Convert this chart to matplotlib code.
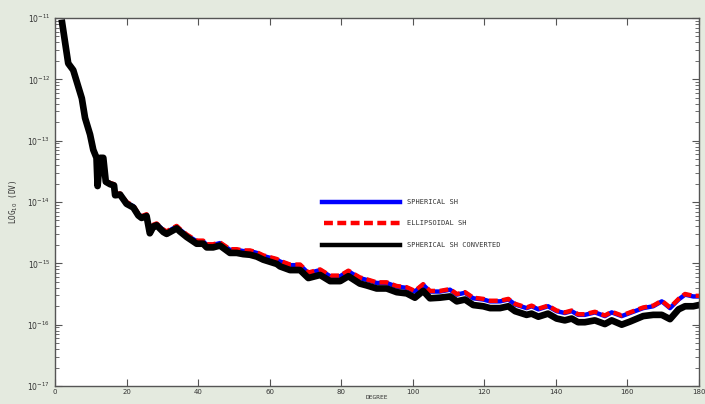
import numpy as np
import matplotlib
matplotlib.use("Agg")
from matplotlib import pyplot as plt
from matplotlib.ticker import FixedLocator, NullFormatter

# degree axis, values (log10 of DV)
degree = [2, 3.7, 5.1, 7.5, 8.4, 9.8, 10.7, 11.6, 11.9, 12.6, 13.5, 14.2, 15.4, 16.5, 16.8,
          18.2, 20.0, 21.9, 23.3, 24.2, 25.6, 26.5, 27.5, 28.4, 30.3, 31.2, 34.0, 34.9, 36.8,
          39.6, 41.4, 42.4, 44.2, 46.1, 48.9, 50.8, 52.6, 54.5, 56.4, 58.2, 62.0, 62.9, 65.7,
          68.5, 70.8, 74.1, 76.9, 79.7, 82.0, 85.2, 87.1, 89.9, 92.7, 95.5, 98.3, 100.6, 102.9,
          104.8, 107.6, 110.4, 112.3, 114.6, 116.9, 119.7, 121.6, 124.4, 126.7, 128.6, 131.8,
          133.2, 135.1, 137.8, 140.2, 142.5, 144.4, 146.2, 148.1, 150.9, 153.7, 155.6, 158.4,
          160.7, 164.4, 167.2, 169.6, 171.9, 174.3, 176.1, 178.4, 180]

log_spherical = [-11.08, -11.74, -11.85, -12.31, -12.63, -12.90, -13.15, -13.28, -13.74, -13.28,
                 -13.28, -13.66, -13.70, -13.72, -13.88, -13.87, -14.01, -14.07, -14.20, -14.24,
                 -14.21, -14.48, -14.38, -14.36, -14.46, -14.49, -14.40, -14.45, -14.54, -14.64,
                 -14.64, -14.70, -14.70, -14.67, -14.78, -14.78, -14.80, -14.80, -14.83, -14.88,
                 -14.94, -14.97, -15.03, -15.03, -15.16, -15.11, -15.21, -15.21, -15.13, -15.24,
                 -15.27, -15.32, -15.32, -15.38, -15.40, -15.46, -15.35, -15.46, -15.46, -15.43,
                 -15.51, -15.48, -15.57, -15.59, -15.62, -15.62, -15.59, -15.67, -15.73, -15.70,
                 -15.75, -15.70, -15.78, -15.81, -15.78, -15.84, -15.84, -15.80, -15.86, -15.80,
                 -15.86, -15.81, -15.73, -15.70, -15.62, -15.73, -15.59, -15.51, -15.54, -15.54]

log_ellipsoidal = [-11.07, -11.73, -11.84, -12.30, -12.62, -12.89, -13.14, -13.27, -13.73, -13.27,
                   -13.27, -13.65, -13.69, -13.71, -13.87, -13.86, -14.00, -14.06, -14.19, -14.23,
                   -14.20, -14.47, -14.37, -14.35, -14.45, -14.48, -14.39, -14.44, -14.53, -14.63,
                   -14.63, -14.69, -14.69, -14.66, -14.77, -14.77, -14.79, -14.79, -14.82, -14.87,
                   -14.93, -14.96, -15.02, -15.02, -15.15, -15.10, -15.20, -15.20, -15.12, -15.23,
                   -15.26, -15.31, -15.31, -15.37, -15.39, -15.45, -15.34, -15.45, -15.45, -15.42,
                   -15.50, -15.47, -15.56, -15.58, -15.61, -15.61, -15.58, -15.66, -15.72, -15.69,
                   -15.74, -15.69, -15.77, -15.80, -15.77, -15.83, -15.83, -15.79, -15.85, -15.79,
                   -15.85, -15.80, -15.72, -15.69, -15.61, -15.72, -15.58, -15.50, -15.53, -15.53]

log_converted = [-11.08, -11.74, -11.85, -12.31, -12.63, -12.90, -13.15, -13.28, -13.74, -13.28,
                 -13.28, -13.67, -13.71, -13.73, -13.89, -13.88, -14.03, -14.09, -14.22, -14.26,
                 -14.23, -14.51, -14.40, -14.38, -14.49, -14.52, -14.43, -14.48, -14.57, -14.68,
                 -14.68, -14.74, -14.74, -14.71, -14.83, -14.83, -14.85, -14.86, -14.89, -14.94,
                 -15.01, -15.05, -15.11, -15.11, -15.24, -15.19, -15.29, -15.29, -15.21, -15.33,
                 -15.36, -15.41, -15.41, -15.47, -15.49, -15.56, -15.45, -15.57, -15.56, -15.54,
                 -15.62, -15.59, -15.68, -15.70, -15.73, -15.73, -15.70, -15.78, -15.84, -15.82,
                 -15.87, -15.82, -15.90, -15.93, -15.90, -15.96, -15.96, -15.93, -15.99, -15.93,
                 -16.00, -15.95, -15.86, -15.84, -15.84, -15.91, -15.75, -15.70, -15.70, -15.68]

labels = ['SPHERICAL SH', 'ELLIPSOIDAL SH', 'SPHERICAL SH CONVERTED']
decades = [-17, -16, -15, -14, -13, -12, -11]

bg = '#e4eadf'
edge = '#555555'

fig = plt.figure(figsize=(7.05, 4.04), dpi=100, facecolor=bg)
ax = fig.add_axes([55/705, 18/404, 644/705, 368/404])

deg = np.array(degree)
ax.plot(deg, 10**np.array(log_spherical), color='#0000ff', lw=3.2, solid_capstyle='butt')
ax.plot(deg, 10**np.array(log_ellipsoidal), color='#ff0000', lw=3.2, ls=(0, (2.0, 1.0)))
ax.plot(deg, 10**np.array(log_converted), color='black', lw=4.8)

ax.set_yscale('log')
ax.set_xlim(0, 180)
ax.set_ylim(1e-17, 1e-11)

ax.xaxis.set_major_locator(FixedLocator(np.arange(0, 181, 20)))
ax.yaxis.set_major_locator(FixedLocator([10.0**d for d in decades]))
minors = [m * 10.0**d for d in decades[:-1] for m in range(2, 10)]
ax.yaxis.set_minor_locator(FixedLocator(minors))
ax.yaxis.set_minor_formatter(NullFormatter())
ax.set_yticklabels([r'$10^{%d}$' % d for d in decades])

ax.tick_params(which='both', direction='in', top=True, right=True, colors=edge,
               labelcolor='#333333', labelsize=5.5)
ax.tick_params(which='major', length=5, width=0.8)
ax.tick_params(which='minor', length=3, width=0.6)
ax.tick_params(axis='x', pad=2, labelsize=5)
for s in ax.spines.values():
    s.set_color(edge)
    s.set_linewidth(1.0)

ax.set_xlabel('DEGREE', fontsize=4.5, family='DejaVu Sans Mono', color='#333333')
ax.xaxis.set_label_coords(0.5, -0.0255)
ax.xaxis.label.set_va('top')
ax.set_ylabel(r'LOG$_{10}$ (DV)', fontsize=5.5, family='DejaVu Sans Mono', color='#333333',
              labelpad=5)

# legend drawn in data space as in the original (lines with text on the right)
leg_x0, leg_x1, leg_tx = 74.5, 96.5, 98.5
leg_y = [10**-14.0, 10**-14.34, 10**-14.70]
ax.plot([leg_x0, leg_x1], [leg_y[0]] * 2, color='#0000ff', lw=3.2)
ax.plot([leg_x0 + 0.8, leg_x1], [leg_y[1]] * 2, color='#ff0000', lw=3.2, ls=(0, (2.0, 1.0)))
ax.plot([leg_x0, leg_x1], [leg_y[2]] * 2, color='black', lw=3.2)
for y, lab in zip(leg_y, labels):
    ax.text(leg_tx, y, lab, fontsize=5, family='DejaVu Sans Mono', color='#333333', va='center')

fig.savefig('out.png', dpi=100, facecolor=bg)
